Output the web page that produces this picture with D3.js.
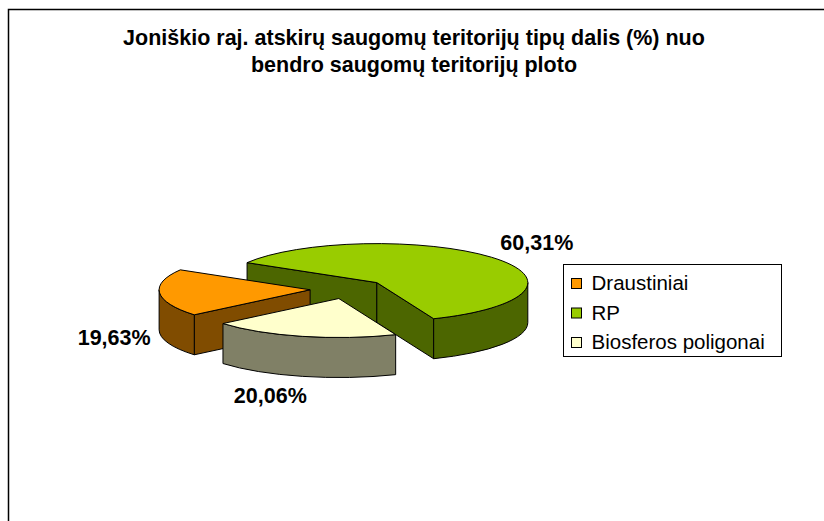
<!DOCTYPE html>
<html>
<head>
<meta charset="utf-8">
<script src="https://cdn.jsdelivr.net/npm/d3@7"></script>
<style>
  body { margin: 0; background: #fff; }
  svg { display: block; font-family: "Liberation Sans", Arial, sans-serif; }
</style>
</head>
<body>
<svg id="chart"></svg>
<script>
// Chart data
const titleLines = ['Joniškio raj. atskirų saugomų teritorijų tipų dalis (%) nuo', 'bendro saugomų teritorijų ploto'];
const categories = ['Draustiniai', 'RP', 'Biosferos poligonai'];
const values = [19.63, 60.31, 20.06];
const labels = ['19,63%', '60,31%', '20,06%'];
const topColors = ['#FF9900', '#99CC00', '#FFFFCC'];
const sideColors = ['#804C00', '#4C6600', '#808066'];

const width = 824, height = 521;
const svg = d3.select('#chart').attr('width', width).attr('height', height);

// frame (only top and left edges show in the crop)
svg.append('path')
    .attr('d', `M8.5,${height} V9.5 H${width}`)
    .attr('fill', 'none').attr('stroke', '#000').attr('stroke-width', 1.5);

// ===== Title =====
svg.append('g').selectAll('text')
    .data(titleLines)
    .join('text')
    .attr('x', 414)
    .attr('y', (d, i) => 45 + i * 27)
    .attr('text-anchor', 'middle')
    .attr('font-size', 21.5)
    .attr('font-weight', 'bold')
    .text(d => d);

// ===== 3D pie =====
const cx = 348, cy = 289;
const rx = 151, ry = 39;
const depth = 40;
const explode = 38;
const startDeg = 230.1; // d3 angle (0 = 12 o'clock)

const pie = d3.pie().sort(null)
    .startAngle(startDeg * Math.PI / 180)
    .endAngle((startDeg + 360) * Math.PI / 180);
const arcs = pie(values);

// convert d3 angle to screen parametric angle (0 = 3 o'clock, clockwise)
const toT = a => a - Math.PI / 2;

const slices = arcs.map((a, i) => {
    const t0 = toT(a.startAngle), t1 = toT(a.endAngle);
    const m = (t0 + t1) / 2;
    const ax = cx + explode * Math.cos(m);
    const ay = cy + explode * Math.sin(m) * (ry / rx);
    return { i, t0, t1, m, ax, ay };
});

const pt = (s, t, dy = 0) => [s.ax + rx * Math.cos(t), s.ay + ry * Math.sin(t) + dy];

function topPath(s) {
    const p0 = pt(s, s.t0), p1 = pt(s, s.t1);
    const large = (s.t1 - s.t0) > Math.PI ? 1 : 0;
    return `M${s.ax},${s.ay} L${p0} A${rx},${ry} 0 ${large} 1 ${p1} Z`;
}

function wallPaths(s) {
    const out = [];
    for (let k = -2; k <= 2; k++) {
        const a = Math.max(s.t0, 2 * Math.PI * k);
        const b = Math.min(s.t1, 2 * Math.PI * k + Math.PI);
        if (b - a > 1e-4) {
            const pa = pt(s, a), pb = pt(s, b);
            const qa = pt(s, a, depth), qb = pt(s, b, depth);
            out.push(`M${pa} A${rx},${ry} 0 0 1 ${pb} L${qb} A${rx},${ry} 0 0 0 ${qa} Z`);
        }
    }
    return out;
}

function cutPath(s, t) {
    const p = pt(s, t), q = pt(s, t, depth);
    return `M${s.ax},${s.ay} L${p} L${q} L${s.ax},${s.ay + depth} Z`;
}

// paint back to front
const order = slices.slice().sort((a, b) => a.ay - b.ay);
const pieG = svg.append('g').attr('stroke', '#000').attr('stroke-width', 1).attr('stroke-linejoin', 'round');

order.forEach(s => {
    const g = pieG.append('g');
    const faces = [];
    if (Math.cos(s.t0) < 0) faces.push(cutPath(s, s.t0));
    if (Math.cos(s.t1) > 0) faces.push(cutPath(s, s.t1));
    faces.concat(wallPaths(s)).forEach(d => {
        g.append('path').attr('d', d).attr('fill', sideColors[s.i]);
    });
    g.append('path').attr('d', topPath(s)).attr('fill', topColors[s.i]);
});

// ===== Data labels =====
const labelNudge = { 0: [-9, 12], 1: [9, -7], 2: [-32, 27] };
svg.append('g').selectAll('text')
    .data(slices)
    .join('text')
    .attr('x', s => pt(s, s.m)[0] + labelNudge[s.i][0])
    .attr('y', s => pt(s, s.m, Math.sin(s.m) > 0 ? depth : 0)[1] + labelNudge[s.i][1])
    .attr('text-anchor', s => s.i === 2 ? 'middle' : (Math.cos(s.m) > 0 ? 'start' : 'end'))
    .attr('font-size', 21.5)
    .attr('font-weight', 'bold')
    .text(s => labels[s.i]);

// ===== Legend =====
const legend = svg.append('g').attr('transform', 'translate(563.5,264.5)');
legend.append('rect')
    .attr('width', 218).attr('height', 92)
    .attr('fill', '#fff').attr('stroke', '#000').attr('stroke-width', 1);

const item = legend.selectAll('g.item')
    .data(categories)
    .join('g')
    .attr('class', 'item')
    .attr('transform', (d, i) => `translate(8,${14 + i * 29.5})`);

item.append('rect')
    .attr('width', 10).attr('height', 10)
    .attr('fill', (d, i) => topColors[i])
    .attr('stroke', '#000').attr('stroke-width', 1);

item.append('text')
    .attr('x', 20)
    .attr('y', 11.5)
    .attr('font-size', 20.5)
    .text(d => d);
</script>
</body>
</html>
